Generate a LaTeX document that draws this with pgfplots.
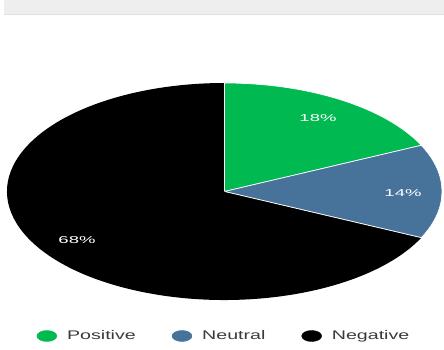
\documentclass[border=0pt]{standalone}
\usepackage{pgfplots}
\pgfplotsset{compat=1.18}
\usepackage{pgfplotstable}
\usepackage{fontspec}
\setmainfont{Liberation Sans}
\definecolor{poscol}{HTML}{00BA51}
\definecolor{neucol}{HTML}{47729A}
\definecolor{negcol}{HTML}{000000}
\definecolor{bargray}{HTML}{EEEEEE}
\definecolor{legtext}{HTML}{3A3A3A}
\pgfplotstableread{
label value
Positive 18
Neutral 14
Negative 68
}\piedata
\pgfplotstablegetelem{0}{value}\of\piedata \let\vA\pgfplotsretval
\pgfplotstablegetelem{1}{value}\of\piedata \let\vB\pgfplotsretval
\pgfplotstablegetelem{2}{value}\of\piedata \let\vC\pgfplotsretval
\pgfmathsetmacro\aA{90-3.6*\vA}
\pgfmathsetmacro\aB{\aA-3.6*\vB}
\pgfmathsetmacro\aC{\aB-3.6*\vC}
\begin{document}
\begin{tikzpicture}
\begin{axis}[
  name=main,
  scale only axis, width=444pt, height=350pt,
  xmin=0, xmax=444, ymin=0, ymax=350,
  hide axis, clip=false,
  legend columns=3,
  legend style={at={(axis cs:224,14)}, anchor=center, draw=none, fill=none,
    font=\fontsize{12.5}{14}\selectfont\color{legtext},
    inner sep=0pt,
    /tikz/every odd column/.append style={column sep=8pt},
    /tikz/every even column/.append style={column sep=34pt}},
  legend image code/.code={\fill[#1] (10pt,0pt) ellipse[x radius=10pt, y radius=5.5pt];},
]
\fill[bargray] (axis cs:4,350) rectangle (axis cs:444,335.5);
\draw[black!12, line width=0.6pt] (axis cs:4,335.6) -- (axis cs:444,335.6);
\def\cx{224.5}\def\cy{158.5}\def\rx{217.5}\def\ry{108.5}
\filldraw[fill=poscol, draw=white, line width=0.7pt]
  (axis cs:\cx,\cy) -- (axis cs:{\cx+\rx*cos(90)},{\cy+\ry*sin(90)})
  arc[start angle=90, end angle=\aA, x radius=\rx, y radius=\ry] -- cycle;
\filldraw[fill=neucol, draw=white, line width=0.7pt]
  (axis cs:\cx,\cy) -- (axis cs:{\cx+\rx*cos(\aA)},{\cy+\ry*sin(\aA)})
  arc[start angle=\aA, end angle=\aB, x radius=\rx, y radius=\ry] -- cycle;
\fill[negcol]
  (axis cs:\cx,\cy) -- (axis cs:{\cx+\rx*cos(\aB)},{\cy+\ry*sin(\aB)})
  arc[start angle=\aB, end angle=\aC, x radius=\rx, y radius=\ry] -- cycle;
\draw[white, line width=0.7pt] (axis cs:\cx,\cy) -- (axis cs:{\cx+\rx*cos(\aB)},{\cy+\ry*sin(\aB)});
\draw[white, line width=0.7pt] (axis cs:\cx,\cy) -- (axis cs:{\cx+\rx*cos(90)},{\cy+\ry*sin(90)});
\node[white, font=\fontsize{10}{12}\selectfont] at (axis cs:318,232) {\scalebox{1.85}[1]{18\%}};
\node[white, font=\fontsize{10}{12}\selectfont] at (axis cs:403,157) {\scalebox{1.85}[1]{14\%}};
\node[white, font=\fontsize{10}{12}\selectfont] at (axis cs:77,110) {\scalebox{1.85}[1]{68\%}};
\addlegendimage{poscol}
\addlegendentry{\scalebox{1.57}[1]{Positive}}
\addlegendimage{neucol}
\addlegendentry{\scalebox{1.57}[1]{Neutral}}
\addlegendimage{negcol}
\addlegendentry{\scalebox{1.57}[1]{Negative}}
\end{axis}
\pgfresetboundingbox
\path[use as bounding box] (main.south west) rectangle (main.north east);
\end{tikzpicture}
\end{document}
